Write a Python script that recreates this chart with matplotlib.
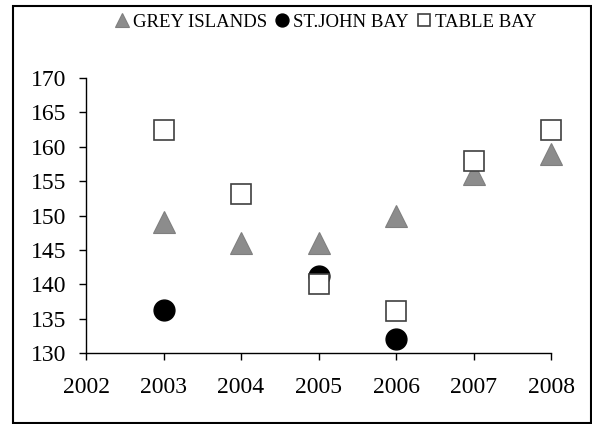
import matplotlib
matplotlib.use("Agg")
import matplotlib.pyplot as plt
from matplotlib.patches import Rectangle
import numpy as np

plt.rcParams['font.family'] = ['Liberation Serif', 'DejaVu Serif']

years = [2003, 2004, 2005, 2006, 2007, 2008]
grey_islands = [149, 146, 146, 150, 156, 159]
st_john_bay = [136.2, np.nan, 141.2, 132, np.nan, np.nan]
table_bay = [162.4, 153.1, 140.1, 136.1, 158, 162.4]

fig = plt.figure(figsize=(5.92, 4.24), dpi=100)
ax = fig.add_axes([86 / 592, 71 / 424, 465 / 592, 275 / 424])

ax.plot(years, grey_islands, linestyle='none', marker='^', markersize=16,
        markerfacecolor='#8c8c8c', markeredgecolor='#7f7f7f', markeredgewidth=0.8,
        label='GREY ISLANDS', zorder=3, clip_on=False)
ax.plot(years, st_john_bay, linestyle='none', marker='o', markersize=15,
        markerfacecolor='black', markeredgecolor='black',
        label='ST.JOHN BAY', zorder=4, clip_on=False)
ax.plot(years, table_bay, linestyle='none', marker='s', markersize=14.2,
        markerfacecolor='white', markeredgecolor='#404040', markeredgewidth=1.2,
        label='TABLE BAY', zorder=5, clip_on=False)

ax.set_xlim(2002, 2008)
ax.set_ylim(130, 170)
ax.set_xticks(range(2002, 2009))
ax.set_yticks(range(130, 171, 5))
ax.tick_params(axis='both', direction='out', length=5, width=1, labelsize=17)
ax.tick_params(axis='x', pad=12)
ax.tick_params(axis='y', pad=9)
for s in ['top', 'right']:
    ax.spines[s].set_visible(False)
for s in ['left', 'bottom']:
    ax.spines[s].set_linewidth(1)

fig.legend(loc='center', bbox_to_anchor=(0.55, 0.947), ncol=3, frameon=False,
           fontsize=13.5, markerscale=0.62, handlelength=0.8, handletextpad=0.2,
           columnspacing=0.4, borderaxespad=0)

fig.patches.append(Rectangle((12.5 / 592, 1 / 424), 578 / 592, 417 / 424,
                             transform=fig.transFigure, fill=False,
                             edgecolor='black', linewidth=1.5))

fig.savefig('out.png', dpi=100)
